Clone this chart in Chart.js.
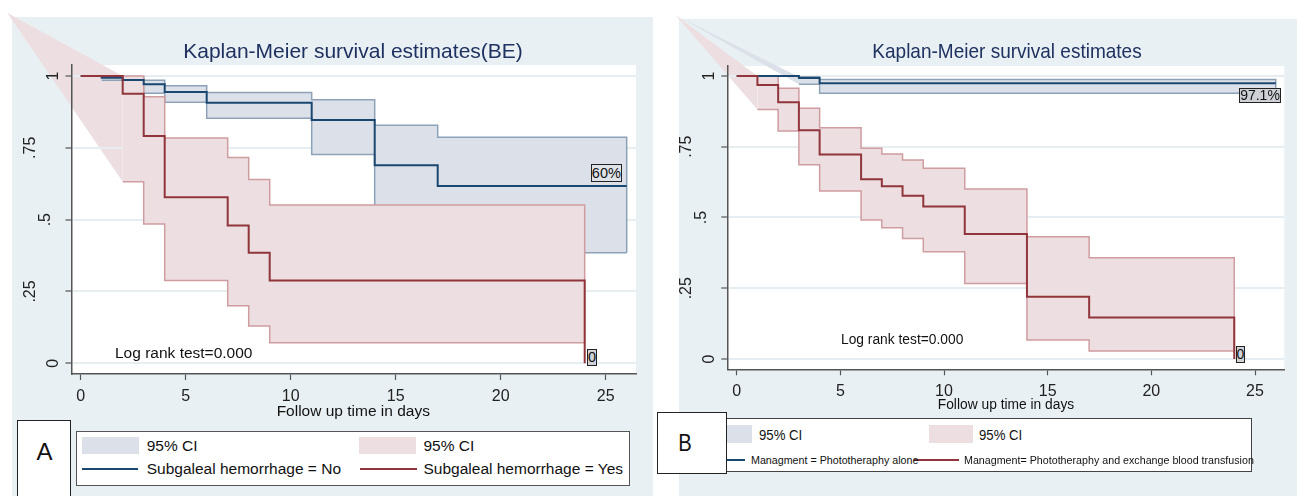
<!DOCTYPE html>
<html>
<head>
<meta charset="utf-8">
<script src="https://cdn.jsdelivr.net/npm/chart.js@4.4.1/dist/chart.umd.min.js"></script>
<style>
body { margin:0; width:1297px; height:496px; position:relative; overflow:hidden; background:#fff;
       font-family:"Liberation Sans", Arial, sans-serif; }
.abs { position:absolute; }
.bg { position:absolute; background:#e9f0f3; }
.txt { position:absolute; white-space:nowrap; line-height:1; }
.box { position:absolute; box-sizing:border-box; }
</style>
</head>
<body>
<div class="bg" style="left:12px;top:17px;width:641px;height:479px"></div>
<div class="bg" style="left:679px;top:19px;width:618px;height:477px"></div>
<canvas id="chartA" class="abs" style="left:0;top:0" width="655" height="420"></canvas>
<canvas id="chartB" class="abs" style="left:650px;top:0" width="647" height="420"></canvas>
<script>
// ---- axis ticks (both panels)
var xTicks = [0, 5, 10, 15, 20, 25];
var yTicks = [0, 0.25, 0.5, 0.75, 1];
var yTickLabels = ['0', '.25', '.5', '.75', '1'];

// ---- panel A: Subgaleal hemorrhage = No
var timesNoA   = [0, 1, 2, 3, 4, 6, 11, 14, 17, 26];
var survNoA    = [1, 0.994, 0.986, 0.971, 0.944, 0.907, 0.847, 0.689, 0.617, 0.617];
var ciTimesNoA = [1, 2, 3, 4, 6, 11, 14, 17, 26];
var ciUpNoA    = [1, 0.997, 0.985, 0.966, 0.943, 0.917, 0.829, 0.787, 0.787];
var ciLoNoA    = [0.985, 0.96, 0.94, 0.909, 0.853, 0.727, 0.46, 0.385, 0.385];

// ---- panel A: Subgaleal hemorrhage = Yes
var timesYesA   = [0, 2, 3, 4, 7, 8, 9, 24];
var survYesA    = [1, 0.938, 0.791, 0.578, 0.48, 0.385, 0.288, 0];
var ciTimesYesA = [2, 3, 4, 7, 8, 9, 24];
var ciUpYesA    = [1, 0.928, 0.784, 0.716, 0.64, 0.551, 0.551];
var ciLoYesA    = [0.632, 0.485, 0.288, 0.2, 0.13, 0.072, 0.072];
var wedgeTipA   = [-3.5, 1.22];   // stray first CI point, drawn off the plot

// ---- panel B: Phototheraphy alone
var timesAloneB   = [0, 3, 4, 26];
var survAloneB    = [1, 0.993, 0.974, 0.974];
var ciTimesAloneB = [3, 4, 26];
var ciUpAloneB    = [0.997, 0.988, 0.988];
var ciLoAloneB    = [0.971, 0.939, 0.939];

// ---- panel B: Phototheraphy and exchange blood transfusion
var timesExB   = [0, 1, 2, 3, 4, 6, 7, 8, 9, 11, 14, 17, 24];
var survExB    = [1, 0.968, 0.907, 0.808, 0.723, 0.635, 0.61, 0.577, 0.539, 0.442, 0.22, 0.147, 0];
var ciTimesExB = [1, 2, 3, 4, 6, 7, 8, 9, 11, 14, 17, 24];
var ciUpExB    = [1, 0.957, 0.886, 0.817, 0.745, 0.724, 0.703, 0.674, 0.601, 0.432, 0.358, 0.358];
var ciLoExB    = [0.882, 0.806, 0.686, 0.594, 0.491, 0.464, 0.426, 0.379, 0.267, 0.067, 0.028, 0.028];
var wedgeTipB  = [-2.94, 1.215];

var navy = '#1a476f', maroon = '#90353b';
var blueFill = '#dce1e9', blueEdge = '#8ea2b7';
var redFill = '#eddfe1', redEdge = '#cf9ca0';

function stepPoints(times, vals) {
	return times.map(function(t, i){ return {x: t, y: vals[i]}; });
}

function lineDs(times, vals, color, order) {
	return { data: stepPoints(times, vals), borderColor: color, borderWidth: 2, stepped: 'before',
		pointRadius: 0, fill: false, order: order };
}

// upper edge (closed down to the last lower value) filled to the lower edge
function bandDs(times, up, lo, fillColor, edgeColor, order) {
	var upper = stepPoints(times, up);
	upper.push({x: times[times.length - 1], y: lo[lo.length - 1]});
	return [
		{ data: upper, borderColor: edgeColor, borderWidth: 1.5, backgroundColor: fillColor, fill: '+1',
			stepped: 'before', pointRadius: 0, order: order },
		{ data: stepPoints(times, lo), borderColor: edgeColor, borderWidth: 1.5, fill: false,
			stepped: 'before', pointRadius: 0, order: order - 1 }
	];
}

function makeDecor(wedges) {
	return {
		id: 'kmDecor',
		beforeDraw: function(chart) {
			var ctx = chart.ctx, a = chart.chartArea, xs = chart.scales.x, ys = chart.scales.y;
			ctx.save();
			ctx.fillStyle = '#fff';
			ctx.fillRect(a.left, a.top, a.right - a.left, a.bottom - a.top);
			wedges.forEach(function(w){
				ctx.beginPath();
				ctx.moveTo(xs.getPixelForValue(w.tip[0]), ys.getPixelForValue(w.tip[1]));
				ctx.lineTo(xs.getPixelForValue(w.t), ys.getPixelForValue(w.up));
				ctx.lineTo(xs.getPixelForValue(w.t), ys.getPixelForValue(w.lo));
				ctx.closePath();
				ctx.fillStyle = w.color;
				ctx.fill();
			});
			ctx.restore();
		},
		afterDraw: function(chart) {
			// vertical y labels, Stata style
			var ctx = chart.ctx, ys = chart.scales.y, left = chart.chartArea.left;
			ctx.save();
			ctx.font = '16px "Liberation Sans", Arial';
			ctx.fillStyle = '#222';
			ctx.textAlign = 'center';
			ctx.textBaseline = 'middle';
			yTicks.forEach(function(v, i){
				var s = yTickLabels[i];
				var w = ctx.measureText(s).width;
				ctx.save();
				ctx.translate(left - (3 + 1.7 * w), ys.getPixelForValue(v));
				ctx.rotate(-Math.PI / 2);
				ctx.fillText(s, 0, 0);
				ctx.restore();
			});
			ctx.restore();
		}
	};
}

function makeChart(id, datasets, wedges, pad, xHeight, xr, yr) {
	return new Chart(document.getElementById(id), {
		type: 'line',
		data: { datasets: datasets },
		options: {
			responsive: false,
			animation: false,
			devicePixelRatio: 1,
			layout: { padding: pad },
			plugins: { legend: { display: false }, tooltip: { enabled: false } },
			scales: {
				x: {
					type: 'linear', min: xr[0], max: xr[1],
					afterBuildTicks: function(ax){ ax.ticks = xTicks.map(function(v){ return {value: v}; }); },
					afterFit: function(ax){ ax.height = xHeight; },
					ticks: { font: { family: '"Liberation Sans", Arial', size: 16 }, color: '#222', padding: 7,
						maxRotation: 0, autoSkip: false, callback: function(v){ return String(v); } },
					grid: { drawOnChartArea: false, drawTicks: true, tickLength: 6, tickColor: '#555', tickWidth: 1.2 },
					border: { display: true, color: '#555', width: 1.5 }
				},
				y: {
					type: 'linear', min: yr[0], max: yr[1],
					afterBuildTicks: function(ax){ ax.ticks = yTicks.map(function(v){ return {value: v}; }); },
					afterFit: function(ax){ ax.width = 0; },
					ticks: { display: false },
					grid: { color: '#e7eef1', lineWidth: 2, drawTicks: true, tickLength: 6, tickColor: '#555', tickWidth: 1.2 },
					border: { display: true, color: '#555', width: 1.5 }
				}
			}
		},
		plugins: [makeDecor(wedges)]
	});
}

var dsA = []
	.concat(bandDs(ciTimesNoA, ciUpNoA, ciLoNoA, blueFill, blueEdge, 10))
	.concat(bandDs(ciTimesYesA, ciUpYesA, ciLoYesA, redFill, redEdge, 8))
	.concat([lineDs(timesNoA, survNoA, navy, 2), lineDs(timesYesA, survYesA, maroon, 1)]);

makeChart('chartA', dsA,
	[{ tip: wedgeTipA, t: ciTimesYesA[0], up: ciUpYesA[0], lo: ciLoYesA[0], color: redFill }],
	{ left: 71.5, right: 19, top: 65, bottom: 0 }, 46,
	[-0.438, 26.443], [-0.0372, 1.0383]);

var dsB = []
	.concat(bandDs(ciTimesAloneB, ciUpAloneB, ciLoAloneB, blueFill, blueEdge, 10))
	.concat(bandDs(ciTimesExB, ciUpExB, ciLoExB, redFill, redEdge, 8))
	.concat([lineDs(timesAloneB, survAloneB, navy, 2), lineDs(timesExB, survExB, maroon, 1)]);

makeChart('chartB', dsB,
	[{ tip: wedgeTipB, t: ciTimesAloneB[0], up: ciUpAloneB[0], lo: ciLoAloneB[0], color: blueFill },
	 { tip: wedgeTipB, t: ciTimesExB[0], up: ciUpExB[0], lo: ciLoExB[0], color: redFill }],
	{ left: 77.3, right: 12.7, top: 66, bottom: 0 }, 50.7,
	[-0.453, 26.413], [-0.0364, 1.0353]);

// ---- text and legends
function addText(str, x, base, size, o) {
	o = o || {};
	var d = document.createElement('div');
	d.className = 'txt';
	d.textContent = str;
	d.style.fontSize = size + 'px';
	d.style.left = x + 'px';
	d.style.top = (base - 0.847 * size) + 'px';
	d.style.color = o.color || '#111';
	var sx = o.sx || 1;
	if (o.center) {
		d.style.transform = 'translateX(-50%) scaleX(' + sx + ')';
	} else if (sx !== 1) {
		d.style.transformOrigin = 'left center';
		d.style.transform = 'scaleX(' + sx + ')';
	}
	document.body.appendChild(d);
	return d;
}

function addBox(x, y, w, h, css) {
	var d = document.createElement('div');
	d.className = 'box';
	d.style.left = x + 'px'; d.style.top = y + 'px';
	d.style.width = w + 'px'; d.style.height = h + 'px';
	for (var k in css) d.style[k] = css[k];
	document.body.appendChild(d);
	return d;
}

function valueBox(str, x, y, w, h, bg, size) {
	var d = addBox(x, y, w, h, { border: '1px solid #222', background: bg, fontSize: size + 'px',
		display: 'flex', alignItems: 'center', justifyContent: 'center', lineHeight: '1', color: '#111' });
	d.textContent = str;
}

var titleColor = '#1f3160';

// panel A
addText('Kaplan-Meier survival estimates(BE)', 353, 57.3, 21, { center: true, color: titleColor });
addText('Follow up time in days', 353.3, 416, 15.5, { center: true });
addText('Log rank test=0.000', 115, 358.3, 15.5);
valueBox('60%', 590.7, 164.3, 31.3, 17.4, '#dfe3e9', 14.5);
valueBox('0', 587.3, 349.3, 9.4, 16.7, '#cfd3d8', 14.5);

addBox(16.7, 420, 54.3, 90, { border: '1.5px solid #222', background: '#fff' });
addText('A', 44.5, 460, 24, { center: true });
addBox(76, 430.7, 554.3, 55, { border: '1px solid #555', background: '#fff' });
addBox(82.3, 436.7, 56.4, 17.6, { background: blueFill });
addBox(359.3, 436.7, 57.2, 17.6, { background: redFill });
addText('95% CI', 146.7, 451.2, 15.5);
addText('95% CI', 423.5, 451.2, 15.5);
addBox(82, 468, 56, 2, { background: navy });
addBox(360, 468, 57, 2, { background: maroon });
addText('Subgaleal hemorrhage = No', 146.7, 474.5, 15.5);
addText('Subgaleal hemorrhage = Yes', 423.5, 474.5, 15.5);

// panel B
addText('Kaplan-Meier survival estimates', 1007.4, 57.3, 21, { center: true, color: titleColor, sx: 0.905 });
addText('Follow up time in days', 1005.7, 409.4, 15.5, { center: true, sx: 0.89 });
addText('Log rank test=0.000', 840.7, 343.8, 15.5, { sx: 0.89 });
valueBox('97.1%', 1239.3, 87.7, 41.4, 15, '#cdd1d6', 14);
valueBox('0', 1236, 345.7, 9, 17, '#cfd3d8', 14);

addBox(690, 418.3, 561.7, 54, { border: '1px solid #444', background: '#fff' });
addBox(700, 425, 52.3, 18.3, { background: blueFill });
addBox(928.6, 425, 44.6, 18.3, { background: redFill });
addText('95% CI', 759.4, 440, 15, { sx: 0.88 });
addText('95% CI', 979.3, 440, 15, { sx: 0.88 });
addBox(700, 459, 45, 1.5, { background: navy });
addBox(914, 459, 45, 1.5, { background: maroon });
addText('Managment = Phototheraphy alone', 751, 464.5, 11.5, { sx: 0.93 });
addText('Managment= Phototheraphy and exchange blood transfusion', 963.7, 464.5, 11.5, { sx: 0.93 });
addBox(656.6, 412.3, 70.6, 61.7, { border: '1.5px solid #222', background: '#fff' });
addText('B', 684.7, 451.5, 23, { center: true, sx: 0.88 });
</script>
</body>
</html>
